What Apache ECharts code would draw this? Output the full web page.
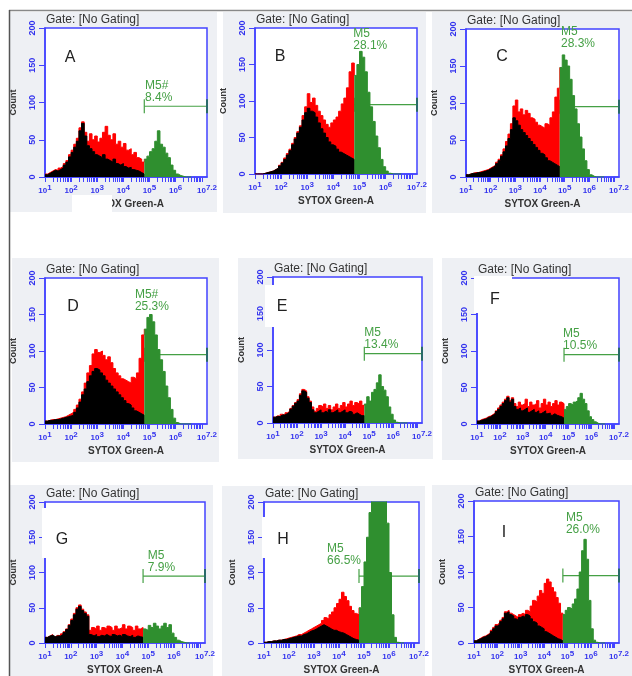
<!DOCTYPE html>
<html>
<head>
<meta charset="utf-8">
<script src="https://cdn.jsdelivr.net/npm/echarts@6/dist/echarts.min.js"></script>
<style>
  html, body { margin: 0; background: #fff; }
  #chart { width: 632px; height: 676px; }
</style>
</head>
<body>
<div id="chart"></div>
<script>
// histogram channels, log decades (left edge of each bin)
const bins = [1.0, 1.1, 1.2, 1.3, 1.4, 1.5, 1.6, 1.7, 1.8, 1.9, 2.0, 2.1, 2.2, 2.3, 2.4, 2.5, 2.6, 2.7, 2.8, 2.9,
  3.0, 3.1, 3.2, 3.3, 3.4, 3.5, 3.6, 3.7, 3.8, 3.9, 4.0, 4.1, 4.2, 4.3, 4.4, 4.5, 4.6, 4.7, 4.8, 4.9,
  5.0, 5.1, 5.2, 5.3, 5.4, 5.5, 5.6, 5.7, 5.8, 5.9, 6.0, 6.1, 6.2, 6.3, 6.4, 6.5, 6.6]
const gate = 4.8 // M5 starts here
const markerLevel = 95

// sample counts per bin (red below the gate, green inside M5)
const sampleA = [4, 6, 8, 10, 9, 12, 14, 18, 22, 30, 36, 44, 52, 66, 74, 60, 48, 58, 50, 55, 47, 52, 60, 68, 56, 50, 58, 44, 48, 40, 45, 36, 38, 30, 33, 26, 24, 20,
  24, 28, 34, 38, 48, 62, 44, 40, 32, 26, 16, 9, 4, 2, 1, 0, 0, 0, 0]
const sampleB = [0, 0, 0, 1, 2, 3, 4, 6, 8, 12, 16, 22, 28, 34, 42, 50, 58, 66, 80, 92, 110, 98, 104, 94, 86, 80, 74, 68, 64, 70, 74, 78, 86, 96, 104, 118, 140, 152,
  135, 150, 168, 160, 140, 112, 92, 72, 52, 36, 20, 10, 4, 1, 0, 0, 0, 0, 0]
const sampleC = [3, 4, 5, 6, 6, 7, 8, 9, 10, 12, 14, 16, 20, 24, 30, 38, 48, 58, 72, 96, 104, 88, 92, 84, 90, 86, 80, 78, 74, 70, 68, 66, 72, 70, 80, 88, 108, 120,
  148, 165, 158, 150, 132, 110, 92, 72, 54, 38, 22, 10, 3, 1, 0, 0, 0, 0, 0]
const sampleD = [4, 5, 6, 6, 7, 8, 9, 10, 12, 14, 16, 20, 26, 34, 44, 56, 70, 80, 96, 102, 98, 100, 94, 88, 92, 84, 76, 70, 66, 62, 60, 58, 56, 64, 62, 70, 90, 122,
  130, 146, 150, 140, 122, 102, 88, 72, 52, 36, 20, 8, 2, 0, 0, 0, 0, 0, 0]
const sampleE = [8, 10, 9, 12, 11, 14, 16, 20, 24, 28, 32, 40, 46, 44, 36, 30, 22, 16, 20, 24, 22, 26, 20, 24, 18, 22, 26, 20, 24, 28, 22, 26, 30, 24, 28, 26, 30, 24,
  26, 36, 30, 42, 46, 55, 66, 50, 45, 36, 22, 12, 4, 1, 0, 0, 0, 0, 0]
const sampleF = [4, 6, 7, 8, 10, 11, 13, 15, 18, 22, 26, 30, 34, 38, 32, 36, 28, 24, 30, 26, 28, 34, 24, 30, 26, 28, 32, 22, 28, 34, 26, 30, 24, 28, 32, 26, 30, 28,
  20, 24, 28, 26, 30, 32, 36, 42, 34, 28, 18, 10, 6, 3, 1, 0, 0, 0, 0]
const sampleG = [8, 10, 12, 9, 11, 10, 13, 16, 20, 26, 34, 42, 50, 54, 48, 44, 40, 18, 22, 20, 24, 18, 22, 20, 24, 22, 18, 24, 20, 22, 26, 20, 24, 22, 18, 24, 20, 22,
  20, 18, 25, 22, 28, 24, 20, 24, 28, 22, 26, 14, 8, 4, 2, 1, 0, 0, 0]
const sampleH = [1, 2, 2, 3, 3, 4, 4, 5, 6, 7, 8, 9, 10, 12, 12, 14, 16, 18, 20, 22, 24, 26, 28, 32, 36, 34, 40, 44, 50, 56, 62, 72, 66, 60, 52, 46, 42, 40,
  50, 80, 115, 150, 185, 220, 260, 280, 270, 250, 215, 170, 100, 40, 8, 1, 0, 0, 0]
const sampleI = [3, 5, 7, 9, 10, 12, 14, 18, 22, 26, 28, 32, 36, 44, 46, 42, 40, 38, 36, 40, 42, 40, 46, 44, 52, 60, 58, 66, 74, 70, 84, 90, 86, 78, 72, 64, 56, 42,
  40, 46, 50, 48, 55, 62, 76, 100, 130, 146, 118, 60, 20, 4, 1, 0, 0, 0, 0]

// control overlay (black), only visible below the gate
const controlA = [3, 5, 7, 9, 8, 10, 12, 16, 20, 27, 33, 40, 48, 62, 72, 55, 42, 38, 34, 30, 28, 26, 30, 24, 22, 20, 24, 18, 16, 18, 14, 12, 13, 10, 9, 8, 6, 4]
const controlB = [0, 0, 0, 1, 2, 3, 4, 6, 8, 11, 15, 20, 26, 32, 40, 48, 56, 64, 74, 84, 90, 86, 84, 78, 70, 62, 56, 50, 44, 40, 38, 34, 30, 28, 26, 24, 22, 20]
const controlC = [3, 4, 5, 5, 6, 6, 7, 8, 9, 11, 13, 15, 18, 22, 28, 34, 42, 52, 64, 80, 76, 70, 64, 60, 56, 52, 48, 44, 40, 36, 32, 30, 26, 22, 20, 18, 16, 14]
const controlD = [4, 5, 5, 6, 6, 7, 8, 9, 10, 11, 12, 16, 22, 30, 40, 48, 58, 66, 72, 76, 74, 70, 66, 60, 56, 52, 48, 44, 40, 36, 32, 28, 26, 22, 18, 16, 14, 12]
const controlE = [8, 9, 9, 11, 11, 13, 15, 19, 23, 27, 30, 38, 44, 42, 34, 28, 18, 14, 16, 18, 14, 16, 14, 18, 14, 16, 18, 14, 16, 18, 14, 16, 15, 12, 14, 12, 10, 10]
const controlF = [4, 5, 6, 7, 9, 10, 12, 14, 17, 20, 24, 28, 32, 36, 30, 34, 24, 20, 22, 18, 20, 22, 16, 18, 20, 16, 18, 14, 16, 18, 14, 15, 12, 14, 12, 11, 10, 8]
const controlG = [8, 10, 11, 9, 10, 10, 12, 15, 19, 25, 32, 40, 48, 52, 46, 42, 38, 12, 10, 12, 9, 11, 10, 12, 10, 9, 12, 10, 11, 9, 12, 10, 9, 11, 8, 10, 9, 8]
const controlH = [1, 2, 2, 3, 3, 4, 4, 5, 5, 6, 7, 8, 9, 10, 10, 12, 13, 15, 17, 18, 20, 22, 24, 26, 24, 22, 20, 18, 18, 16, 15, 14, 12, 10, 8, 6, 5, 4]
const controlI = [3, 5, 6, 8, 9, 11, 13, 16, 20, 24, 26, 30, 34, 42, 44, 40, 38, 34, 32, 36, 38, 36, 40, 38, 34, 30, 28, 24, 22, 20, 16, 14, 12, 10, 8, 6, 5, 3]

const letters = ['A', 'B', 'C', 'D', 'E', 'F', 'G', 'H', 'I']
const markerNames = ['M5#', 'M5', 'M5', 'M5#', 'M5', 'M5', 'M5', 'M5', 'M5']
const markerPcts = ['8.4%', '28.1%', '28.3%', '25.3%', '13.4%', '10.5%', '7.9%', '66.5%', '26.0%']
const xTickLabels = [1, 2, 3, 4, 5, 6, 7.2]

const samples = [sampleA, sampleB, sampleC, sampleD, sampleE, sampleF, sampleG, sampleH, sampleI]
const controls = [controlA, controlB, controlC, controlD, controlE, controlF, controlG, controlH, controlI]

// layout of the figure: plot box, panel background, letter spot, marker text spot (data coords)
const panels = [
  { grid: [45, 28, 162, 149], bg: [10, 12, 207, 200], letter: [70, 58], text: [4.83, 99] },
  { grid: [255, 28, 162, 146], bg: [223, 12, 203, 201], letter: [280, 57], text: [4.76, 168] },
  { grid: [466, 29, 158, 148], bg: [432, 12, 200, 201], letter: [502, 57], text: [4.85, 172] },
  { grid: [45, 278, 162, 146], bg: [12, 258, 207, 204], letter: [73, 307], text: [4.44, 152] },
  { grid: [273, 277, 149, 146], bg: [238, 258, 195, 201], letter: [282, 307], text: [4.8, 99] },
  { grid: [477, 278, 162, 146], bg: [442, 258, 190, 202], letter: [495, 300], text: [4.76, 99] },
  { grid: [45, 502, 160, 143], bg: [10, 485, 203, 191], letter: [62, 540], text: [4.98, 98] },
  { grid: [264, 502, 155, 145], bg: [222, 486, 203, 190], letter: [283, 540], text: [3.52, 108] },
  { grid: [474, 501, 153, 144], bg: [432, 485, 200, 191], letter: [504, 533], text: [4.93, 151] }
]
// white patches pasted over the original figure
const covers = [[72, 195, 40, 18], [265, 285, 32, 42], [474, 276, 38, 37], [42, 508, 31, 50], [262, 517, 31, 41]]

const blue = '#4343ff'
const blueText = '#3333ee'
const green = '#2f8f2f'
const markGreen = '#45a045'
const font = 'Liberation Sans'

// log-scale minor ticks
const minorTicks = []
for (let d = 1; d <= 7; d++) {
  for (let k = 1; k <= 9; k++) {
    const v = d + Math.log10(k)
    if (v <= 7.2) minorTicks.push(+v.toFixed(4))
  }
}

const chart = echarts.init(document.getElementById('chart'), null, { renderer: 'canvas' })

const grid = []
const xAxis = []
const yAxis = []
const title = []
const series = []
const graphic = []

panels.forEach((p, i) => {
  const [left, top, width, height] = p.grid
  grid.push({
    left, top, width, height,
    show: true, backgroundColor: '#fff', borderColor: blue, borderWidth: 1.5
  })
  xAxis.push({
    gridIndex: i, type: 'value', min: 1, max: 7.2,
    name: 'SYTOX Green-A', nameLocation: 'middle', nameGap: 22,
    nameTextStyle: { color: '#333', fontSize: 10, fontWeight: 'bold', fontFamily: font },
    axisLine: { show: true, lineStyle: { color: blue, width: 1.5 } },
    axisTick: { show: true, customValues: minorTicks, length: 5, lineStyle: { color: blue, width: 1 } },
    axisLabel: {
      customValues: xTickLabels,
      margin: 7,
      formatter: v => '{b|10}{e|' + v + '}',
      rich: {
        b: { color: blueText, fontSize: 8, fontWeight: 'bold', fontFamily: font },
        e: { color: blueText, fontSize: 8, fontWeight: 'bold', fontFamily: font, padding: [0, 0, 5, 0] }
      }
    },
    splitLine: { show: false }
  })
  yAxis.push({
    gridIndex: i, type: 'value', min: 0, max: 200, interval: 50,
    name: 'Count', nameLocation: 'middle', nameGap: 27, nameRotate: 90,
    nameTextStyle: { color: '#333', fontSize: 9, fontWeight: 'bold', fontFamily: font },
    axisLine: { show: true, lineStyle: { color: blue, width: 1.5 } },
    axisTick: { show: true, length: 6, lineStyle: { color: blue } },
    axisLabel: { rotate: 90, color: blueText, fontSize: 9, fontWeight: 'bold', fontFamily: font, margin: 8 },
    splitLine: { show: false }
  })
  title.push({
    text: 'Gate: [No Gating]', left: left + 1, top: top - 14, padding: 0,
    textStyle: { color: '#333', fontSize: 12, fontWeight: 'normal', fontFamily: font }
  })

  const s = samples[i]
  const c = controls[i]
  const cut = bins.indexOf(gate)
  const histo = (name, data, color, z) => ({
    name, type: 'line', xAxisIndex: i, yAxisIndex: i, step: 'end', symbol: 'none', z,
    data, clip: true, animation: false,
    lineStyle: { color, width: 1 },
    areaStyle: { color, opacity: 1 }
  })
  series.push(histo('sample', bins.slice(0, cut + 1).map((b, k) => [b, s[k]]), '#ff0000', 3))
  series.push(histo('control', bins.slice(0, cut).map((b, k) => [b, c[k]]).concat([[gate, 0]]), '#000', 4))
  series.push(histo('M5', bins.slice(cut).map((b, k) => [b, s[cut + k]]), green, 5))

  // M5 marker bracket
  series.push({
    type: 'custom', xAxisIndex: i, yAxisIndex: i, z: 2, animation: false, clip: false,
    data: [[gate, markerLevel, 7.2]],
    renderItem: (params, api) => {
      const a = api.coord([api.value(0), api.value(1)])
      const b = api.coord([api.value(2), api.value(1)])
      const t = api.coord(p.text)
      const ls = { stroke: markGreen, lineWidth: 1.2 }
      return {
        type: 'group',
        children: [
          { type: 'line', shape: { x1: a[0], y1: a[1], x2: b[0], y2: b[1] }, style: ls },
          { type: 'line', shape: { x1: a[0], y1: a[1] - 7, x2: a[0], y2: a[1] + 7 }, style: ls },
          { type: 'line', shape: { x1: b[0], y1: b[1] - 7, x2: b[0], y2: b[1] + 7 }, style: { stroke: '#2a6a6a', lineWidth: 2 } },
          {
            type: 'text', x: t[0], y: t[1],
            style: {
              text: markerNames[i] + '\n' + markerPcts[i], fill: markGreen,
              font: '12px ' + font, verticalAlign: 'bottom', lineHeight: 12
            }
          }
        ]
      }
    }
  })

  const [bx, by, bw, bh] = p.bg
  graphic.push({ type: 'rect', z: -10, shape: { x: bx, y: by, width: bw, height: bh }, style: { fill: '#eef0f4' } })
  graphic.push({
    type: 'text', z: 50, x: p.letter[0], y: p.letter[1],
    style: { text: letters[i], fill: '#222', font: '16px ' + font, align: 'center', verticalAlign: 'middle' }
  })
})

covers.forEach(r => {
  graphic.push({ type: 'rect', z: 40, shape: { x: r[0], y: r[1], width: r[2], height: r[3] }, style: { fill: '#fff' } })
})
// frame lines of the figure
graphic.push({ type: 'line', z: 60, shape: { x1: 9, y1: 10.5, x2: 632, y2: 10.5 }, style: { stroke: '#888', lineWidth: 1.5 } })
graphic.push({ type: 'line', z: 60, shape: { x1: 9.5, y1: 10, x2: 9.5, y2: 676 }, style: { stroke: '#555', lineWidth: 1.5 } })

chart.setOption({
  backgroundColor: '#fff',
  animation: false,
  title,
  grid,
  xAxis,
  yAxis,
  series,
  graphic: { elements: graphic }
})
</script>
</body>
</html>
